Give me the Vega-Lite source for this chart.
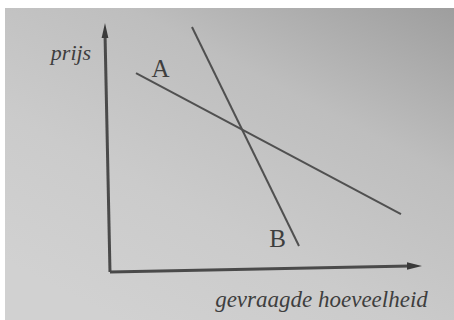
{
  "$schema": "https://vega.github.io/schema/vega-lite/v6.json",
  "width": 454,
  "height": 320,
  "autosize": {"type": "fit", "contains": "padding"},
  "padding": {"left": 5, "top": 8, "right": 0, "bottom": 0},
  "background": "white",
  "config": {"view": {"stroke": null, "fill": "#c4c4c4"}},
  "datasets": {
    "lines": [
      {"series": "xaxis", "q": 0, "p": 0, "o": 0},
      {"series": "xaxis", "q": 100, "p": 2, "o": 1},
      {"series": "yaxis", "q": 0, "p": 0, "o": 0},
      {"series": "yaxis", "q": -1.67, "p": 80, "o": 1},
      {"series": "A", "q": 8.67, "p": 66.33, "o": 0},
      {"series": "A", "q": 97, "p": 19.33, "o": 1},
      {"series": "B", "q": 27.33, "p": 81.67, "o": 0},
      {"series": "B", "q": 63, "p": 8.67, "o": 1}
    ],
    "arrows": [
      {"dir": "up", "q": -1.67, "p": 80.5},
      {"dir": "right", "q": 101.5, "p": 2}
    ],
    "labels": [
      {"text": "prijs", "style": "italic", "q": -13, "p": 70.67, "size": 22},
      {"text": "A", "style": "normal", "q": 16.83, "p": 65, "size": 25},
      {"text": "B", "style": "normal", "q": 55.83, "p": 8.33, "size": 25},
      {"text": "gevraagde hoeveelheid", "style": "italic", "q": 70.5, "p": -11.67, "size": 23}
    ]
  },
  "layer": [
    {
      "data": {"values": [{}]},
      "mark": {
        "type": "rect",
        "color": {
          "gradient": "linear",
          "x1": 1, "y1": 0, "x2": 0.25, "y2": 1,
          "stops": [
            {"offset": 0, "color": "#9e9e9e"},
            {"offset": 0.35, "color": "#bebebe"},
            {"offset": 0.7, "color": "#cbcbcb"},
            {"offset": 1, "color": "#d1d1d1"}
          ]
        }
      },
      "encoding": {
        "x": {"datum": -35, "type": "quantitative", "scale": {"domain": [-35, 114.67], "nice": false, "zero": false}, "axis": null},
        "x2": {"datum": 114.67},
        "y": {"datum": -16, "type": "quantitative", "scale": {"domain": [-16, 88], "nice": false, "zero": false}, "axis": null},
        "y2": {"datum": 88}
      }
    },
    {
      "data": {"name": "lines"},
      "transform": [{"filter": "datum.series == 'xaxis' || datum.series == 'yaxis'"}],
      "mark": {"type": "line", "color": "#4a4a4a", "strokeWidth": 3},
      "encoding": {
        "x": {"field": "q", "type": "quantitative", "scale": {"domain": [-35, 114.67], "nice": false, "zero": false}, "axis": null},
        "y": {"field": "p", "type": "quantitative", "scale": {"domain": [-16, 88], "nice": false, "zero": false}, "axis": null},
        "detail": {"field": "series"},
        "order": {"field": "o"}
      }
    },
    {
      "data": {"name": "lines"},
      "transform": [{"filter": "datum.series == 'A' || datum.series == 'B'"}],
      "mark": {"type": "line", "color": "#505050", "strokeWidth": 2},
      "encoding": {
        "x": {"field": "q", "type": "quantitative", "axis": null},
        "y": {"field": "p", "type": "quantitative", "axis": null},
        "detail": {"field": "series"},
        "order": {"field": "o"}
      }
    },
    {
      "data": {"name": "arrows"},
      "transform": [{"filter": "datum.dir == 'up'"}],
      "mark": {"type": "point", "shape": "M0,-1L0.45,1L-0.45,1Z", "filled": true, "color": "#3a3a3a", "opacity": 1, "size": 225},
      "encoding": {
        "x": {"field": "q", "type": "quantitative", "axis": null},
        "y": {"field": "p", "type": "quantitative", "axis": null}
      }
    },
    {
      "data": {"name": "arrows"},
      "transform": [{"filter": "datum.dir == 'right'"}],
      "mark": {"type": "point", "shape": "M1,0L-1,-0.5L-1,0.5Z", "filled": true, "color": "#3a3a3a", "opacity": 1, "size": 225},
      "encoding": {
        "x": {"field": "q", "type": "quantitative", "axis": null},
        "y": {"field": "p", "type": "quantitative", "axis": null}
      }
    },
    {
      "data": {"name": "labels"},
      "transform": [{"filter": "datum.style == 'italic'"}],
      "mark": {"type": "text", "font": "Liberation Serif, Times New Roman, DejaVu Serif, serif", "fontStyle": "italic", "align": "center", "baseline": "alphabetic", "color": "#3e3e3e"},
      "encoding": {
        "x": {"field": "q", "type": "quantitative", "axis": null},
        "y": {"field": "p", "type": "quantitative", "axis": null},
        "text": {"field": "text"},
        "size": {"field": "size", "type": "quantitative", "scale": null}
      }
    },
    {
      "data": {"name": "labels"},
      "transform": [{"filter": "datum.style == 'normal'"}],
      "mark": {"type": "text", "font": "Liberation Serif, Times New Roman, DejaVu Serif, serif", "align": "center", "baseline": "alphabetic", "color": "#3e3e3e"},
      "encoding": {
        "x": {"field": "q", "type": "quantitative", "axis": null},
        "y": {"field": "p", "type": "quantitative", "axis": null},
        "text": {"field": "text"},
        "size": {"field": "size", "type": "quantitative", "scale": null}
      }
    }
  ]
}
